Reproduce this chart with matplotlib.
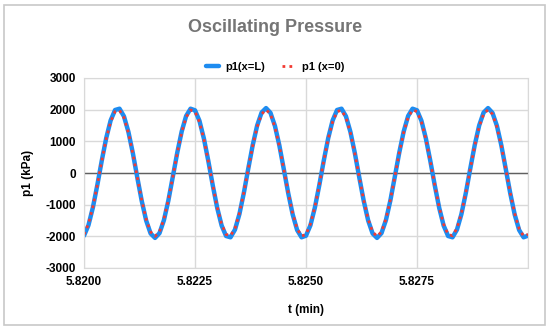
import matplotlib.pyplot as plt
import matplotlib.patches as patches
import numpy as np

plt.rcParams['font.family'] = ['Liberation Sans', 'DejaVu Sans']
plt.rcParams['axes.unicode_minus'] = False

# sample times (min), one every 0.0001 min
t_start = 5.8200
t_step = 0.0001
n_pts = 101
t = np.round(t_start + t_step * np.arange(n_pts), 4)

# p1 at x=L (kPa)
p1_L = [-1980, -1650, -1090, -380, 390, 1100, 1660, 1990, 2030, 1790,
        1300, 630, -140, -880, -1500, -1910, -2050, -1900, -1490, -870,
        -120, 640, 1310, 1800, 2030, 1980, 1650, 1090, 380, -390,
        -1100, -1660, -1990, -2030, -1790, -1300, -630, 140, 880, 1500,
        1910, 2050, 1900, 1490, 870, 120, -640, -1310, -1800, -2030,
        -1980, -1650, -1090, -380, 390, 1100, 1660, 1990, 2030, 1790,
        1300, 630, -140, -880, -1500, -1910, -2050, -1900, -1490, -870,
        -120, 640, 1310, 1800, 2030, 1980, 1650, 1090, 380, -390,
        -1100, -1660, -1990, -2030, -1790, -1300, -630, 140, 880, 1500,
        1910, 2050, 1900, 1490, 870, 120, -640, -1310, -1800, -2030,
        -1980]

# p1 at x=0 (kPa)
p1_0 = [-1940, -1610, -1070, -370, 380, 1080, 1620, 1940, 1980, 1750,
        1270, 610, -130, -860, -1460, -1860, -2000, -1860, -1450, -850,
        -120, 630, 1280, 1760, 1990, 1940, 1610, 1070, 370, -380,
        -1080, -1620, -1940, -1980, -1750, -1270, -610, 130, 860, 1460,
        1860, 2000, 1860, 1450, 850, 120, -630, -1280, -1760, -1990,
        -1940, -1610, -1070, -370, 380, 1080, 1620, 1940, 1980, 1750,
        1270, 610, -130, -860, -1460, -1860, -2000, -1860, -1450, -850,
        -120, 630, 1280, 1760, 1990, 1940, 1610, 1070, 370, -380,
        -1080, -1620, -1940, -1980, -1750, -1270, -610, 130, 860, 1460,
        1860, 2000, 1860, 1450, 850, 120, -630, -1280, -1760, -1990,
        -1940]

x_ticks = [5.8200, 5.8225, 5.8250, 5.8275, 5.8300]
x_labels = ['5.8200', '5.8225', '5.8250', '5.8275', '']
y_ticks = [-3000, -2000, -1000, 0, 1000, 2000, 3000]

fig = plt.figure(figsize=(5.5, 3.29), dpi=100)
ax = fig.add_axes([84 / 550, 1 - 268 / 329, 444 / 550, 190 / 329])

# outer chart border
fig.patches.append(patches.Rectangle((4 / 550, 1 - 325 / 329), 541 / 550, 320 / 329,
                                     transform=fig.transFigure, fill=False,
                                     edgecolor='#c8c8c8', linewidth=1.2))

ax.plot(t, p1_L, color='#1e8cf0', linewidth=3.2, label='p1(x=L)', solid_capstyle='round')
ax.plot(t, p1_0, color='#f23a32', linewidth=2.0, linestyle=(0, (1, 1.5)), label='p1 (x=0)')
ax.axhline(0, color='#606060', linewidth=1.0, zorder=1)

ax.set_xlim(5.8200, 5.8300)
ax.set_ylim(-3000, 3000)
ax.set_xticks(x_ticks)
ax.set_xticklabels(x_labels)
ax.set_yticks(y_ticks)
ax.grid(True, color='#d9d9d9', linewidth=1.0)
ax.set_axisbelow(True)
for s in ax.spines.values():
    s.set_color('#d9d9d9')
ax.tick_params(length=0, labelsize=8.5, pad=6)
for lbl in ax.get_xticklabels() + ax.get_yticklabels():
    lbl.set_fontweight('bold')

ax.set_xlabel('t (min)', fontsize=8.5, fontweight='bold', labelpad=11)
ax.set_ylabel('p1 (kPa)', fontsize=8.5, fontweight='bold', labelpad=8)

fig.text(0.5, 1 - 27 / 329, 'Oscillating Pressure', ha='center', va='center',
         fontsize=13, fontweight='bold', color='#757575')
fig.legend(loc='center', bbox_to_anchor=(0.5, 1 - 67 / 329), ncol=2, frameon=False,
           prop={'size': 8, 'weight': 'bold'}, handlelength=1.2, columnspacing=1.5,
           handletextpad=0.6)

plt.savefig('out.png', dpi=100)
